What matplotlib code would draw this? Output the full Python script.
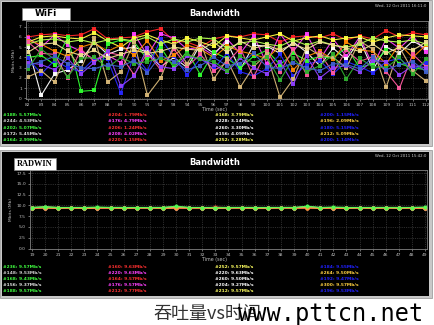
import matplotlib.pyplot as plt
import matplotlib.patches as mpatches

W, H = 434, 325

# ---- WiFi panel data (Mbit/s, t = 82..112 s) ----
wifi_t = list(range(82, 113))
wifi_ticks = list(range(82, 113))
wifi_series = {
    'red':     [6.0, 6.2, 6.3, 6.1, 6.2, 6.8, 5.8, 5.9, 6.0, 6.5, 6.8, 5.6, 5.5, 5.0, 5.8, 6.1, 6.0, 6.3, 6.2, 5.5, 6.0, 6.1, 5.9, 6.3, 5.7, 6.1, 5.8, 6.6, 6.0, 6.4, 6.2],
    'magenta': [5.9, 5.0, 6.2, 5.2, 4.6, 3.8, 4.2, 3.5, 6.3, 4.2, 6.3, 5.9, 4.8, 5.0, 4.2, 5.8, 4.4, 6.1, 3.4, 6.3, 4.6, 6.3, 3.8, 5.8, 4.1, 6.0, 3.2, 5.8, 4.9, 6.1, 4.5],
    'yellow':  [5.5, 6.0, 6.1, 5.9, 5.8, 6.4, 5.6, 5.0, 5.9, 6.2, 5.7, 5.3, 5.9, 5.5, 5.1, 6.1, 5.9, 5.7, 6.0, 6.3, 5.6, 5.9, 6.1, 5.7, 5.9, 6.0, 5.5, 5.9, 6.2, 6.1, 6.0],
    'white':   [5.0, 0.3, 2.4, 2.8, 3.7, 5.5, 4.3, 4.8, 5.0, 4.5, 3.1, 4.0, 3.0, 5.3, 4.4, 5.5, 2.8, 5.2, 5.1, 4.4, 5.5, 4.5, 3.2, 4.9, 3.8, 5.7, 2.8, 5.0, 4.4, 5.6, 4.9],
    'green':   [4.0, 4.2, 3.3, 6.0, 0.7, 0.8, 5.3, 5.7, 5.5, 3.8, 5.0, 3.0, 4.6, 2.3, 4.5, 3.9, 3.0, 4.1, 4.7, 3.3, 4.4, 3.7, 4.1, 3.9, 5.0, 3.0, 3.4, 4.7, 3.4, 3.0, 2.8],
    'blue':    [3.9, 2.4, 3.7, 3.0, 2.6, 3.9, 3.8, 0.5, 4.3, 2.7, 5.8, 4.1, 2.3, 3.9, 2.9, 4.4, 2.6, 2.2, 2.9, 4.3, 2.2, 3.3, 3.7, 2.4, 3.6, 3.1, 2.5, 3.6, 3.9, 2.8, 3.5],
    'orange':  [5.6, 5.3, 4.6, 4.1, 5.0, 5.4, 4.6, 5.2, 4.2, 5.6, 3.7, 4.2, 5.2, 4.8, 4.0, 5.1, 4.6, 4.3, 3.9, 5.1, 2.8, 4.1, 4.6, 3.8, 5.5, 4.7, 4.6, 3.4, 5.3, 4.0, 5.2],
    'lime':    [5.3, 5.7, 5.8, 5.5, 5.7, 5.4, 5.7, 5.8, 5.6, 6.0, 5.3, 5.8, 5.5, 5.9, 5.8, 4.9, 5.4, 5.6, 5.3, 5.1, 5.7, 5.2, 5.6, 5.2, 5.0, 5.3, 5.9, 5.6, 5.5, 5.7, 5.3],
    'pink':    [5.5, 4.4, 4.3, 2.0, 4.8, 3.6, 4.5, 4.2, 2.3, 4.4, 2.8, 4.8, 3.1, 4.3, 2.7, 3.5, 4.9, 2.1, 4.6, 2.6, 4.8, 2.3, 4.4, 2.5, 4.7, 3.6, 4.1, 2.6, 1.0, 4.3, 3.1],
    'tan':     [2.1, 2.7, 1.6, 4.7, 2.9, 5.9, 1.6, 2.6, 5.5, 0.3, 2.0, 5.2, 3.4, 5.5, 1.9, 3.8, 1.1, 3.1, 4.3, 0.1, 1.9, 5.0, 4.2, 4.0, 3.0, 5.6, 4.8, 1.1, 5.0, 2.7, 1.7],
    'purple':  [3.5, 3.3, 2.8, 3.9, 2.4, 3.5, 4.6, 1.2, 2.2, 4.9, 3.1, 2.9, 4.1, 3.8, 3.3, 2.6, 3.9, 3.0, 2.4, 3.6, 1.4, 4.1, 2.0, 3.0, 3.2, 2.6, 3.7, 3.6, 2.3, 3.2, 3.0],
    'dkgreen': [2.9, 4.8, 3.8, 2.1, 3.9, 4.0, 3.0, 4.0, 3.4, 3.6, 3.9, 3.4, 4.3, 3.8, 3.6, 2.7, 4.1, 3.5, 4.0, 1.8, 3.9, 2.6, 3.2, 4.3, 1.9, 3.9, 3.1, 3.0, 4.0, 2.4, 3.8],
    'khaki':   [4.5, 5.3, 5.4, 4.6, 4.2, 4.7, 3.9, 4.3, 4.7, 4.4, 4.6, 5.0, 4.8, 4.7, 5.5, 4.5, 5.6, 4.9, 5.2, 4.7, 5.3, 4.8, 5.5, 5.2, 4.9, 4.6, 5.3, 4.4, 5.0, 4.7, 5.5],
    'ltblue':  [3.2, 3.6, 4.1, 3.4, 3.0, 2.9, 3.3, 3.1, 3.7, 2.5, 4.2, 3.6, 2.8, 3.2, 4.0, 3.2, 3.4, 4.4, 3.1, 2.9, 3.5, 3.0, 2.7, 3.4, 3.3, 2.9, 4.0, 2.8, 3.3, 3.6, 2.6],
}
wifi_colors = {
    'red': '#ff2828', 'magenta': '#ff40ff', 'yellow': '#ffff40', 'white': '#ffffff',
    'green': '#30ff30', 'blue': '#2828ff', 'orange': '#ff8a00', 'lime': '#b8ff50',
    'pink': '#ff5aa0', 'tan': '#d8b878', 'purple': '#9040ff', 'dkgreen': '#30b030',
    'khaki': '#f0e090', 'ltblue': '#4060d0',
}
wifi_legend = [
    ['#188: 5.57Mb/s', '#244: 4.53Mb/s', '#202: 5.07Mb/s', '#172: 5.45Mb/s', '#164: 2.99Mb/s'],
    ['#204: 1.79Mb/s', '#176: 4.79Mb/s', '#206: 1.24Mb/s', '#208: 4.02Mb/s', '#220: 1.15Mb/s'],
    ['#168: 3.79Mb/s', '#228: 3.14Mb/s', '#260: 3.30Mb/s', '#156: 4.09Mb/s', '#252: 3.28Mb/s'],
    ['#200: 1.15Mb/s', '#196: 2.09Mb/s', '#180: 5.15Mb/s', '#212: 5.09Mb/s', '#200: 1.14Mb/s'],
]
wifi_legend_colors = [
    ['#40ff40', '#d0d0d0', '#40ff40', '#e0e0e0', '#40ff40'],
    ['#ff3030', '#ff40ff', '#ff3030', '#ff40ff', '#ff3030'],
    ['#ffff60', '#ffffff', '#ffffff', '#ffffff', '#ffff60'],
    ['#2020ff', '#ffd040', '#2020ff', '#ffd040', '#2020ff'],
]

# ---- RADWIN panel data (Mbit/s, t = 19..49 s) ----
rad_t = list(range(19, 50))
rad_series = {
    'ltgreen': [9.5, 9.7, 9.5, 9.4, 9.4, 9.5, 9.5, 9.5, 9.4, 9.5, 9.5, 9.7, 9.5, 9.4, 9.5, 9.5, 9.5, 9.4, 9.5, 9.5, 9.4, 9.7, 9.4, 9.5, 9.5, 9.4, 9.5, 9.5, 9.4, 9.5, 9.5],
    'yellow':  [9.4, 9.5, 9.4, 9.5, 9.4, 9.4, 9.5, 9.4, 9.5, 9.4, 9.4, 9.5, 9.4, 9.5, 9.4, 9.4, 9.5, 9.5, 9.4, 9.5, 9.5, 9.5, 9.5, 9.4, 9.4, 9.5, 9.4, 9.5, 9.5, 9.4, 9.4],
    'white':   [9.5, 9.5, 9.5, 9.5, 9.5, 9.5, 9.5, 9.5, 9.5, 9.5, 9.5, 9.5, 9.5, 9.5, 9.5, 9.5, 9.5, 9.5, 9.5, 9.5, 9.5, 9.6, 9.5, 9.5, 9.5, 9.5, 9.5, 9.5, 9.5, 9.5, 9.5],
    'red':     [9.3, 9.5, 9.4, 9.3, 9.4, 9.4, 9.3, 9.4, 9.3, 9.4, 9.3, 9.4, 9.3, 9.3, 9.6, 9.4, 9.3, 9.4, 9.3, 9.4, 9.3, 9.4, 9.4, 9.3, 9.4, 9.3, 9.5, 9.3, 9.5, 9.3, 9.4],
    'orange':  [9.4, 9.4, 9.3, 9.4, 9.3, 9.4, 9.4, 9.3, 9.4, 9.4, 9.3, 9.4, 9.4, 9.4, 9.3, 9.4, 9.4, 9.3, 9.3, 9.4, 9.4, 9.4, 9.3, 9.4, 9.3, 9.4, 9.3, 9.4, 9.3, 9.4, 9.3],
    'green':   [9.5, 9.6, 9.5, 9.5, 9.5, 9.6, 9.5, 9.5, 9.5, 9.5, 9.5, 9.8, 9.5, 9.5, 9.5, 9.5, 9.5, 9.5, 9.5, 9.5, 9.5, 9.8, 9.5, 9.6, 9.5, 9.5, 9.5, 9.5, 9.5, 9.5, 9.6],
}
rad_colors = {
    'ltgreen': '#b0ff80', 'yellow': '#ffff50', 'white': '#f0f0f0',
    'red': '#ff3a3a', 'orange': '#ffa040', 'green': '#50ff50',
}
rad_yticks = [0.0, 2.5, 5.0, 7.5, 10.0, 12.5, 15.0, 17.5]
rad_legend = [
    ['#236: 9.57Mb/s', '#148: 9.53Mb/s', '#168: 9.43Mb/s', '#156: 9.37Mb/s', '#188: 9.57Mb/s'],
    ['#160: 9.63Mb/s', '#220: 9.63Mb/s', '#164: 9.57Mb/s', '#176: 9.57Mb/s', '#212: 9.77Mb/s'],
    ['#252: 9.57Mb/s', '#220: 9.63Mb/s', '#260: 9.50Mb/s', '#204: 9.27Mb/s', '#212: 9.57Mb/s'],
    ['#184: 9.55Mb/s', '#264: 9.50Mb/s', '#192: 9.47Mb/s', '#300: 9.57Mb/s', '#196: 9.53Mb/s'],
]
rad_legend_colors = [
    ['#40ff40', '#d0d0d0', '#40ff40', '#e0e0e0', '#40ff40'],
    ['#ff3030', '#ff40ff', '#ff3030', '#ff40ff', '#ff3030'],
    ['#ffff60', '#ffffff', '#ffffff', '#ffffff', '#ffff60'],
    ['#2020ff', '#ffd040', '#2020ff', '#ffd040', '#2020ff'],
]


def rect(x0, y0, x1, y1):
    # pixel box (top-left origin) -> figure fraction
    return [x0 / W, 1 - y1 / H, (x1 - x0) / W, (y1 - y0) / H]


def fx(x):
    return x / W


def fy(y):
    return 1 - y / H


fig = plt.figure(figsize=(W / 100, H / 100), dpi=100)
fig.patch.set_facecolor('white')


def panel(y0, y1, label, label_box, stamp, label_font):
    # grey outer frame + black screen, drawn behind the axes
    fig.patches.append(mpatches.Rectangle((fx(0), fy(y1 + 2)), fx(432), (y1 + 2 - y0 + 2) / H,
                                          transform=fig.transFigure, facecolor='#c8c8c8',
                                          edgecolor='#a0a0a0', lw=0.6, zorder=-10))
    fig.patches.append(mpatches.Rectangle((fx(2), fy(y1)), fx(427), (y1 - y0) / H,
                                          transform=fig.transFigure, facecolor='black',
                                          edgecolor='none', zorder=-9))
    bx0, by0, bx1, by1 = label_box
    fig.patches.append(mpatches.Rectangle((fx(bx0), fy(by1)), fx(bx1 - bx0), (by1 - by0) / H,
                                          transform=fig.transFigure, facecolor='white',
                                          edgecolor='#888888', lw=0.5, zorder=5))
    fig.text(fx((bx0 + bx1) / 2), fy((by0 + by1) / 2), label, ha='center', va='center',
             zorder=6, color='black', **label_font)
    fig.text(fx(215), fy(y0 + 11), 'Bandwidth', ha='center', va='center',
             fontsize=6, fontweight='bold', color='white', zorder=6)
    fig.text(fx(426), fy(y0 + 4), stamp, ha='right', va='center',
             fontsize=2.8, color='#d0d0d0', zorder=6)


def style_axes(ax):
    ax.set_facecolor('black')
    for s in ax.spines.values():
        s.set_color('#808080')
        s.set_linewidth(0.6)
    ax.tick_params(colors='#c0c0c0', labelsize=3.2, length=1.5, width=0.4, pad=1.5)
    ax.grid(True, color='#505050', lw=0.4, ls=(0, (2, 2)))
    ax.set_axisbelow(True)


def legend_block(y_first, rows_gap, labels, colors):
    xs = [3, 108, 215, 320]
    for ci, col in enumerate(labels):
        for ri, txt in enumerate(col):
            fig.text(fx(xs[ci]), fy(y_first + ri * rows_gap), txt, ha='left', va='center',
                     fontsize=3.2, fontweight='bold', color=colors[ci][ri], zorder=6)


# ---- top panel: WiFi ----
panel(2, 144, 'WiFi', (22, 8, 70, 20), 'Wed, 12 Oct 2011 16:11:0',
      dict(fontsize=6.5, fontweight='bold'))
ax1 = fig.add_axes(rect(26, 21, 428, 99))
ax1.set_zorder(1)
style_axes(ax1)
for name, vals in wifi_series.items():
    ax1.plot(wifi_t, vals, color=wifi_colors[name], lw=0.8, marker='s', ms=2.4,
             markeredgewidth=0, alpha=0.95)
ax1.set_xlim(81.85, 112.15)
ax1.set_ylim(-0.05, 7.55)
ax1.set_xticks(wifi_ticks)
ax1.set_yticks(range(0, 8))
ax1.set_ylabel('Mbits (Mb)', fontsize=3.2, color='#c0c0c0', labelpad=2)
fig.text(fx(215), fy(109), 'Time (sec)', ha='center', va='center', fontsize=3.4, color='#c0c0c0')
legend_block(115, 6.3, wifi_legend, wifi_legend_colors)

# ---- bottom panel: RADWIN ----
panel(152, 296, 'RADWIN', (14, 158, 56, 170), 'Wed, 12 Oct 2011 15:42:0',
      dict(fontsize=6, fontweight='bold', family='Liberation Serif'))
ax2 = fig.add_axes(rect(30, 170, 427, 249))
ax2.set_zorder(1)
style_axes(ax2)
for name, vals in rad_series.items():
    ax2.plot(rad_t, vals, color=rad_colors[name], lw=0.9, marker='o', ms=3,
             markeredgewidth=0, alpha=0.9)
ax2.set_xlim(18.85, 49.15)
ax2.set_ylim(-0.1, 18.2)
ax2.set_xticks(rad_t)
ax2.set_yticks(rad_yticks)
ax2.set_yticklabels([f'{v:.1f}' for v in rad_yticks])
ax2.set_ylabel('Mbits (Mb)', fontsize=3.2, color='#c0c0c0', labelpad=2)
fig.text(fx(215), fy(260), 'Time (sec)', ha='center', va='center', fontsize=3.4, color='#c0c0c0')
legend_block(267, 6, rad_legend, rad_legend_colors)

# ---- caption + watermark (they overlap in the original too) ----
fig.text(fx(153), fy(314), '吞吐量vs时间', ha='left', va='center', fontsize=13,
         color='#333333', family=['Noto Sans CJK SC', 'DejaVu Sans'])
fig.text(fx(238), fy(314), 'www.pttcn.net', ha='left', va='center', fontsize=17,
         color='black', family='DejaVu Sans Mono')

fig.savefig('out.png', dpi=100, facecolor='white')
